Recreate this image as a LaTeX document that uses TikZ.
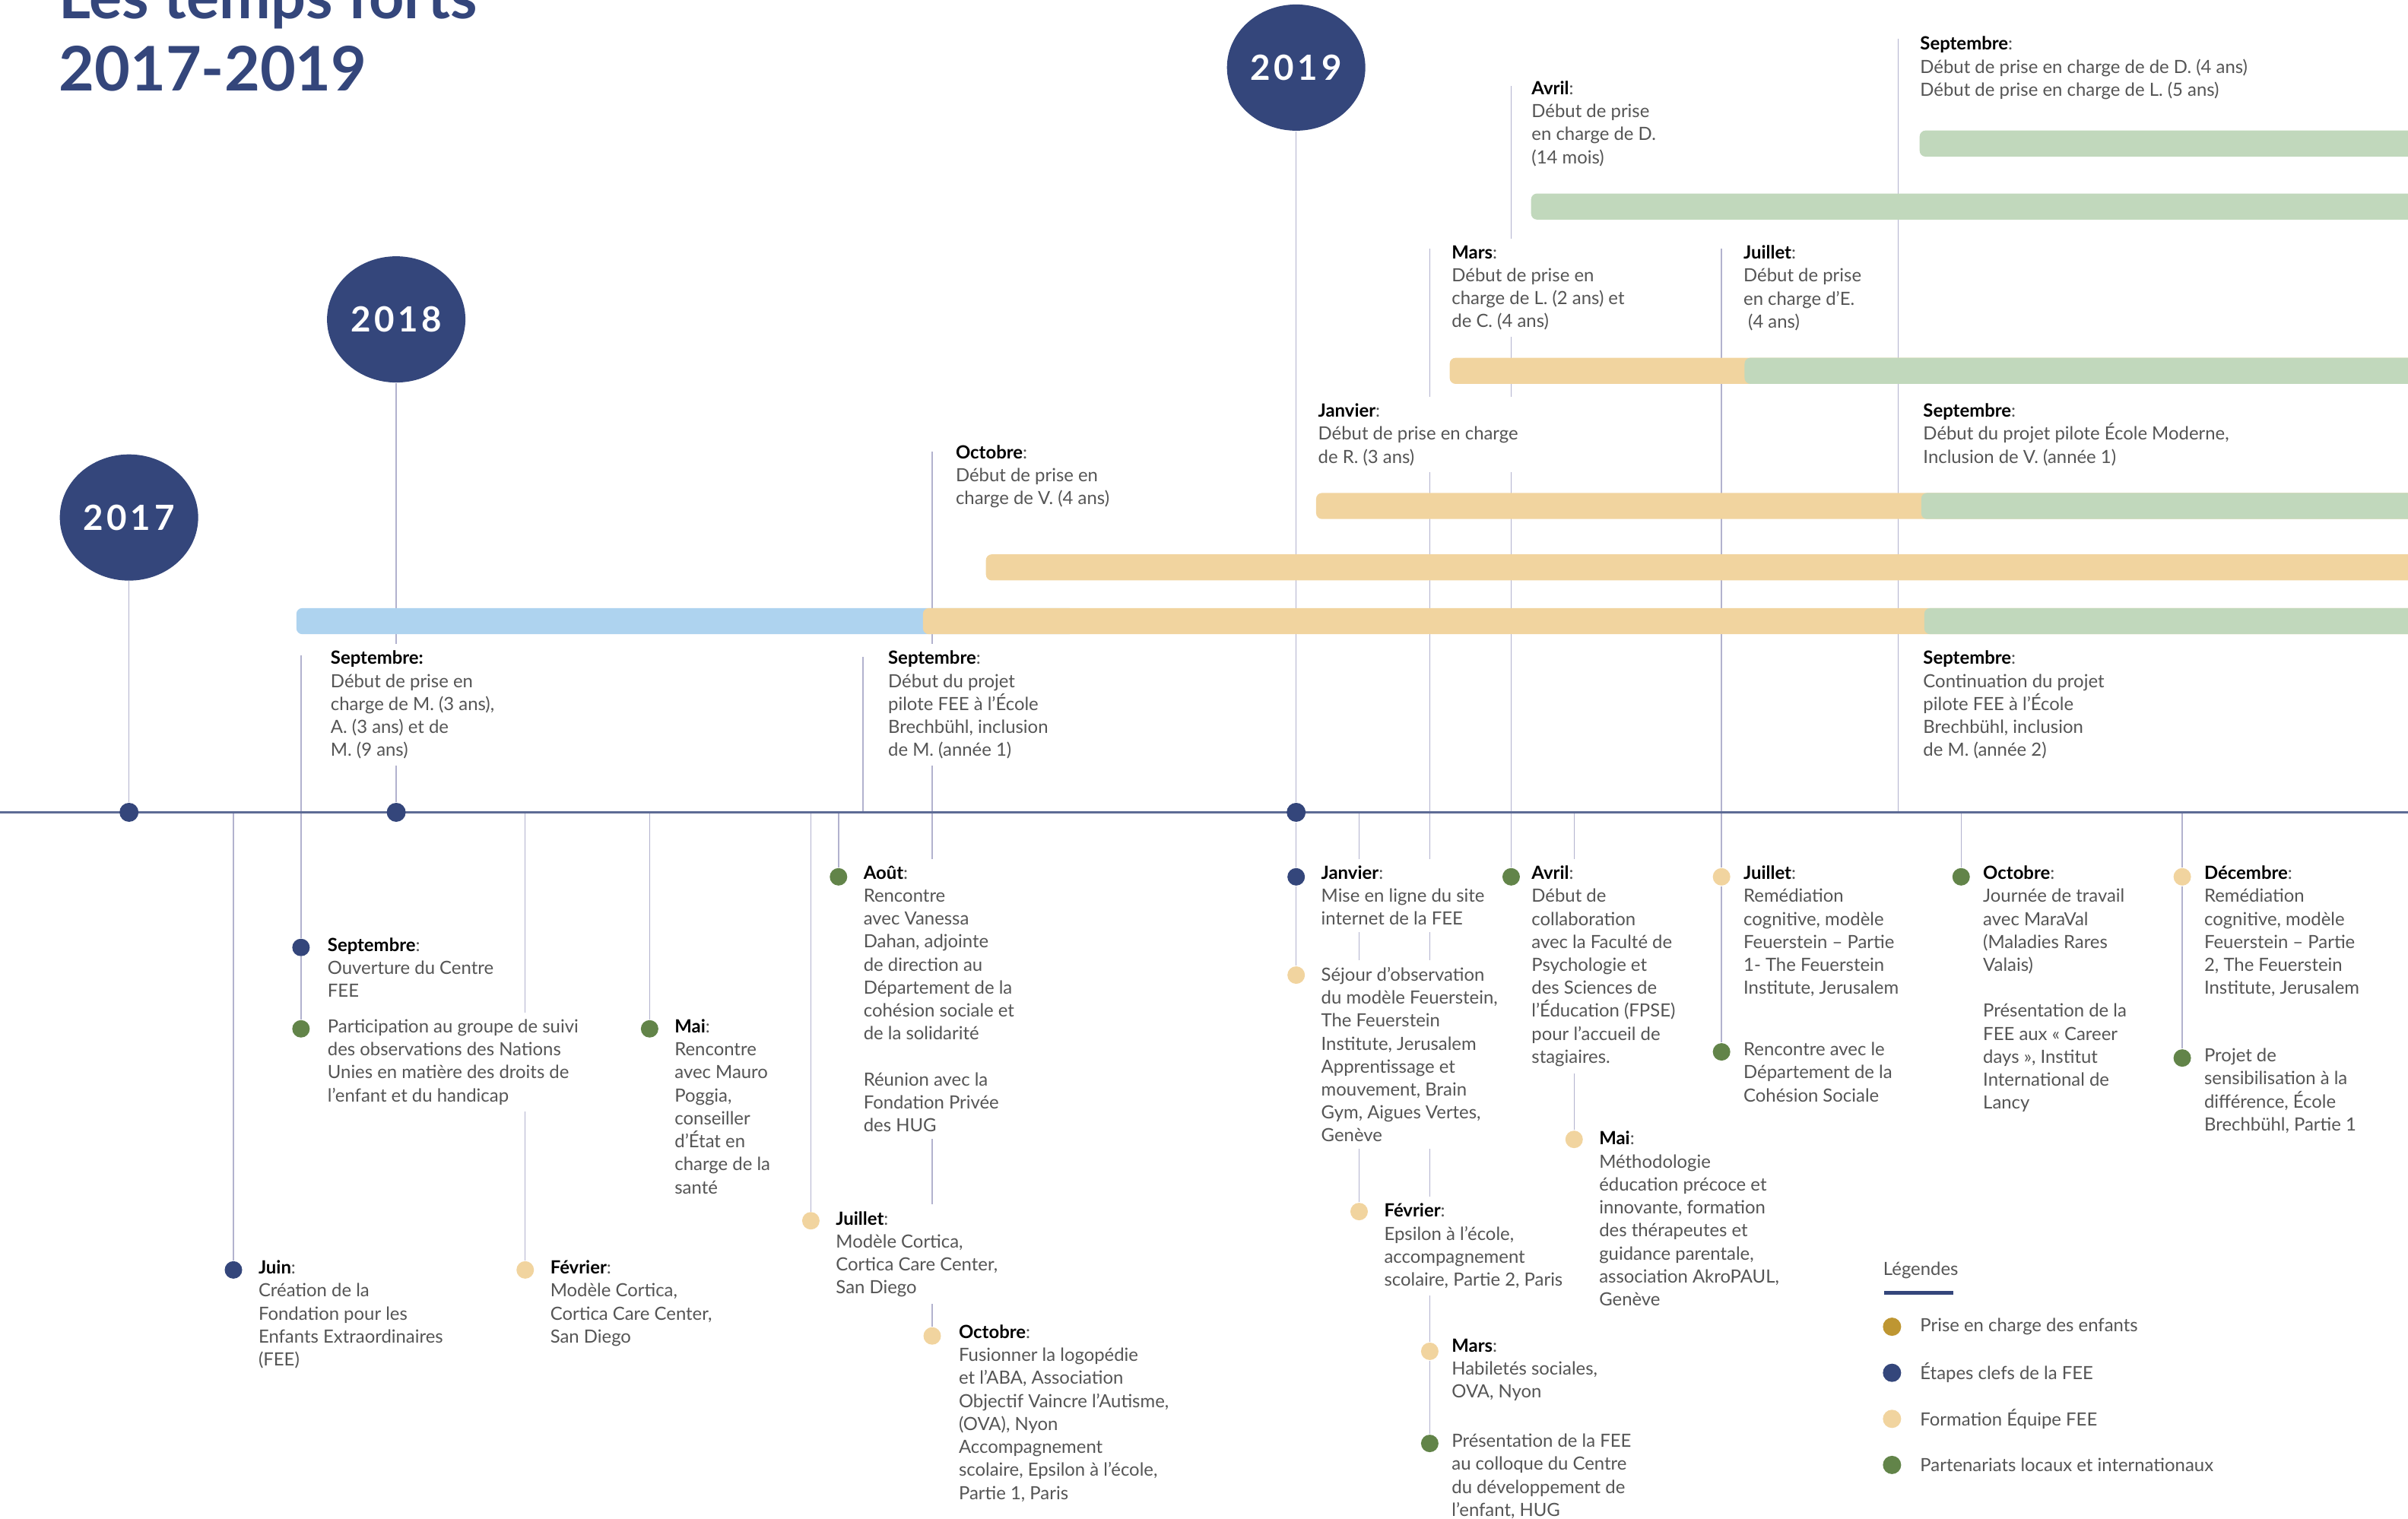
\documentclass[tikz,border=0pt]{standalone}
\usepackage{fontspec}
\setmainfont{Lato}
\usetikzlibrary{shapes.geometric}
\usetikzlibrary{calc}
\definecolor{feeblue}{HTML}{34467B}
\definecolor{feegreen}{HTML}{628449}
\definecolor{feetan}{HTML}{F1D49F}
\definecolor{feegold}{HTML}{BE9632}
\definecolor{barblue}{HTML}{AED3EF}
\definecolor{bargreen}{HTML}{C1D8BC}
\definecolor{stemgray}{HTML}{B2B2CE}
\definecolor{txtgray}{HTML}{555555}
\pgfdeclarelayer{stems}
\pgfdeclarelayer{bars}
\pgfsetlayers{stems,bars,main}
\tikzset{
	stem/.style={draw=stemgray, line width=0.4pt},
	dot/.style={circle, fill=#1, inner sep=0pt, minimum size=2.3mm},
	yearblob/.style={ellipse, fill=feeblue, inner sep=0pt, minimum width=18.2mm, minimum height=16.6mm,
			text=white, font=\fontsize{13}{13}\bfseries\addfontfeature{LetterSpace=10}},
	titletxt/.style={anchor=base west, inner sep=0pt, text=feeblue, font=\fontsize{23}{27}\bfseries},
	evt/.style={anchor=north west, xshift=-1.5pt, yshift=7.4pt, align=left, fill=white, inner xsep=1.5pt, inner ysep=2.5pt,
			text=txtgray, font=\fontsize{6.8}{8.6}\selectfont, execute at begin node={\rule{0pt}{6pt}}},
	legtxt/.style={anchor=west, inner sep=0pt, text=txtgray, font=\fontsize{6.8}{8.6}\selectfont},
	bar/.style={fill=#1, rounded corners=2.2pt}
}
\newcommand{\mois}[1]{{\bfseries\color{black}#1}:}

\begin{document}
\begin{tikzpicture}[x=0.20198mm, y=-0.20198mm]
	\useasboundingbox (0,0) rectangle (1568,989.2);
	\clip (0,0) rectangle (1568,989.2);

	% titre
	\node[titletxt] (titre1) at (38,12) {Les temps forts};
	\node[titletxt] (titre2) at (38,59) {2017-2019};

	% annees
	\node[yearblob] (c2017) at (84,337) {2017};
	\node[yearblob] (c2018) at (258,208) {2018};
	\node[yearblob] (c2019) at (844,44) {2019};

	% ligne du temps
	\coordinate (tlL) at (0,529);
	\coordinate (tlR) at (1568,529);
	\draw[feeblue!80, line width=0.8pt] (tlL) -- (tlR);
	\node[dot=feeblue, minimum size=2.5mm] (d2017) at (84,529) {};
	\node[dot=feeblue, minimum size=2.5mm] (d2018) at (258,529) {};
	\node[dot=feeblue, minimum size=2.5mm] (d2019) at (844,529) {};

	% points des evenements
	\node[dot=feeblue] (dJuin) at (152,827) {};
	\node[dot=feeblue] (dSep17) at (196,617) {};
	\node[dot=feegreen] (dPart) at (196,670) {};
	\node[dot=feetan] (dFev18) at (342,827) {};
	\node[dot=feegreen] (dMai18) at (423,670) {};
	\node[dot=feegreen] (dAout) at (546,571) {};
	\node[dot=feetan] (dJuil18) at (528,795) {};
	\node[dot=feetan] (dOct18) at (607,870) {};
	\node[dot=feeblue] (dJan19) at (844,571) {};
	\node[dot=feetan] (dSej) at (844,635) {};
	\node[dot=feetan] (dFev19) at (885,789) {};
	\node[dot=feetan] (dMars19) at (931,880) {};
	\node[dot=feegreen] (dPres) at (931,940) {};
	\node[dot=feegreen] (dAvr19) at (984,571) {};
	\node[dot=feetan] (dMai19) at (1025,742) {};
	\node[dot=feetan] (dJuil19) at (1121,571) {};
	\node[dot=feegreen] (dRenc) at (1121,685) {};
	\node[dot=feegreen] (dOct19) at (1277,571) {};
	\node[dot=feetan] (dDec) at (1421,571) {};
	\node[dot=feegreen] (dProj) at (1421,689) {};

	% bouts libres des traits
	\coordinate (h196) at (196,427);
	\coordinate (h562) at (562,428);
	\coordinate (b562) at (562,529);
	\coordinate (h607) at (607,294);
	\coordinate (h931) at (931,162);
	\coordinate (h984) at (984,56);
	\coordinate (h1121) at (1121,162);
	\coordinate (h1236) at (1236,25);
	\coordinate (b1236) at (1236,529);
	\foreach \x in {152,342,423,528,546,885,1025,1277,1421}
		\coordinate (b\x) at (\x,529);

	\begin{pgfonlayer}{stems}
		\draw[stem] (c2017) -- (d2017);
		\draw[stem] (c2018) -- (d2018);
		\draw[stem] (c2019) -- (d2019) -- (dJan19) -- (dSej);
		\draw[stem] (h196) -- (dSep17) -- (dPart);
		\draw[stem] (h562) -- (b562);
		\draw[stem] (h607) -- (dOct18);
		\draw[stem] (h931) -- (dMars19) -- (dPres);
		\draw[stem] (h984) -- (dAvr19);
		\draw[stem] (h1121) -- (dJuil19) -- (dRenc);
		\draw[stem] (h1236) -- (b1236);
		\draw[stem] (b152) -- (dJuin);
		\draw[stem] (b342) -- (dFev18);
		\draw[stem] (b423) -- (dMai18);
		\draw[stem] (b528) -- (dJuil18);
		\draw[stem] (b546) -- (dAout);
		\draw[stem] (b885) -- (dFev19);
		\draw[stem] (b1025) -- (dMai19);
		\draw[stem] (b1277) -- (dOct19);
		\draw[stem] (b1421) -- (dDec) -- (dProj);
	\end{pgfonlayer}

	% barres de prise en charge
	\begin{pgfonlayer}{bars}
		\fill[bar=barblue] (193,396) rectangle (700,413);
		\fill[bar=feetan] (601,396) rectangle (1600,413);
		\fill[bar=bargreen] (1253,396) rectangle (1600,413);
		\fill[bar=feetan] (642,361) rectangle (1600,378);
		\fill[bar=feetan] (857,321) rectangle (1600,338);
		\fill[bar=bargreen] (1251,321) rectangle (1600,338);
		\fill[bar=feetan] (944,233) rectangle (1600,250);
		\fill[bar=bargreen] (1136,233) rectangle (1600,250);
		\fill[bar=bargreen] (997,126) rectangle (1600,143);
		\fill[bar=bargreen] (1250,85) rectangle (1600,102);
	\end{pgfonlayer}

	% textes au-dessus
	\node[evt] (u1) at (215,432) {{\bfseries\color{black}Septembre:}\\Début de prise en\\charge de M. (3 ans),\\A. (3 ans) et de\\M. (9 ans)};
	\node[evt] (u2) at (578,432) {\mois{Septembre}\\Début du projet\\pilote FEE à l’École\\Brechbühl, inclusion\\de M. (année 1)};
	\node[evt] (u3) at (622,298) {\mois{Octobre}\\Début de prise en\\charge de V. (4 ans)};
	\node[evt] (u4) at (858,271) {\mois{Janvier}\\Début de prise en charge\\de R. (3 ans)};
	\node[evt] (u5) at (945,168) {\mois{Mars}\\Début de prise en\\charge de L. (2 ans) et\\de C. (4 ans)};
	\node[evt] (u6) at (1135,168) {\mois{Juillet}\\Début de prise\\en charge d’E.\\\hspace{0.25em}(4 ans)};
	\node[evt] (u7) at (997,61) {\mois{Avril}\\Début de prise\\en charge de D.\\(14 mois)};
	\node[evt] (u8) at (1250,32) {\mois{Septembre}\\Début de prise en charge de de D. (4 ans)\\Début de prise en charge de L. (5 ans)};
	\node[evt] (u9) at (1252,271) {\mois{Septembre}\\Début du projet pilote École Moderne,\\Inclusion de V. (année 1)};
	\node[evt] (u10) at (1252,432) {\mois{Septembre}\\Continuation du projet\\pilote FEE à l’École\\Brechbühl, inclusion\\de M. (année 2)};

	% textes en dessous
	\node[evt] (eJuin) at (168,829) {\mois{Juin}\\Création de la\\Fondation pour les\\Enfants Extraordinaires\\(FEE)};
	\node[evt] (eSep17) at (213,619) {\mois{Septembre}\\Ouverture du Centre\\FEE};
	\node[evt] (ePart) at (213,672) {Participation au groupe de suivi\\des observations des Nations\\Unies en matière des droits de\\l’enfant et du handicap};
	\node[evt] (eFev18) at (358,829) {\mois{Février}\\Modèle Cortica,\\Cortica Care Center,\\San Diego};
	\node[evt] (eMai18) at (439,672) {\mois{Mai}\\Rencontre\\avec Mauro\\Poggia,\\conseiller\\d’État en\\charge de la\\santé};
	\node[evt] (eAout) at (562,572) {\mois{Août}\\Rencontre\\avec Vanessa\\Dahan, adjointe\\de direction au\\Département de la\\cohésion sociale et\\de la solidarité\\[8.6pt]Réunion avec la\\Fondation Privée\\des HUG};
	\node[evt] (eJuil18) at (544,797) {\mois{Juillet}\\Modèle Cortica,\\Cortica Care Center,\\San Diego};
	\node[evt] (eOct18) at (624,871) {\mois{Octobre}\\Fusionner la logopédie\\et l’ABA, Association\\Objectif Vaincre l’Autisme,\\(OVA), Nyon\\Accompagnement\\scolaire, Epsilon à l’école,\\Partie 1, Paris};
	\node[evt] (eJan19) at (860,572) {\mois{Janvier}\\Mise en ligne du site\\internet de la FEE};
	\node[evt] (eSej) at (860,638) {Séjour d’observation\\du modèle Feuerstein,\\The Feuerstein\\Institute, Jerusalem\\Apprentissage et\\mouvement, Brain\\Gym, Aigues Vertes,\\Genève};
	\node[evt] (eFev19) at (901,792) {\mois{Février}\\Epsilon à l’école,\\accompagnement\\scolaire, Partie 2, Paris};
	\node[evt] (eMars19) at (945,880) {\mois{Mars}\\Habiletés sociales,\\OVA, Nyon};
	\node[evt] (ePres) at (945,942) {Présentation de la FEE\\au colloque du Centre\\du développement de\\l’enfant, HUG};
	\node[evt] (eAvr19) at (997,572) {\mois{Avril}\\Début de\\collaboration\\avec la Faculté de\\Psychologie et\\des Sciences de\\l’Éducation (FPSE)\\pour l’accueil de\\stagiaires.};
	\node[evt] (eMai19) at (1041,745) {\mois{Mai}\\Méthodologie\\éducation précoce et\\innovante, formation\\des thérapeutes et\\guidance parentale,\\association AkroPAUL,\\Genève};
	\node[evt] (eJuil19) at (1135,572) {\mois{Juillet}\\Remédiation\\cognitive, modèle\\Feuerstein – Partie\\1- The Feuerstein\\Institute, Jerusalem};
	\node[evt] (eRenc) at (1135,687) {Rencontre avec le\\Département de la\\Cohésion Sociale};
	\node[evt] (eOct19) at (1291,572) {\mois{Octobre}\\Journée de travail\\avec MaraVal\\(Maladies Rares\\Valais)\\[8.6pt]Présentation de la\\FEE aux « Career\\days », Institut\\International de\\Lancy};
	\node[evt] (eDec) at (1435,572) {\mois{Décembre}\\Remédiation\\cognitive, modèle\\Feuerstein – Partie\\2, The Feuerstein\\Institute, Jerusalem};
	\node[evt] (eProj) at (1435,691) {Projet de\\sensibilisation à la\\différence, École\\Brechbühl, Partie 1};

	% legende
	\node[legtxt] (leg) at (1226,827) {Légendes};
	\coordinate (legA) at (1227,842);
	\coordinate (legB) at (1272,842);
	\draw[feeblue, line width=1.3pt] (legA) -- (legB);
	\node[dot=feegold, minimum size=2.4mm] (lg1) at (1232,864) {};
	\node[dot=feeblue, minimum size=2.4mm] (lg2) at (1232,894) {};
	\node[dot=feetan, minimum size=2.4mm] (lg3) at (1232,924) {};
	\node[dot=feegreen, minimum size=2.4mm] (lg4) at (1232,954) {};
	\node[legtxt] at (1250,864) {Prise en charge des enfants};
	\node[legtxt] at (1250,894) {Étapes clefs de la FEE};
	\node[legtxt] at (1250,924) {Formation Équipe FEE};
	\node[legtxt] at (1250,954) {Partenariats locaux et internationaux};
\end{tikzpicture}
\end{document}
